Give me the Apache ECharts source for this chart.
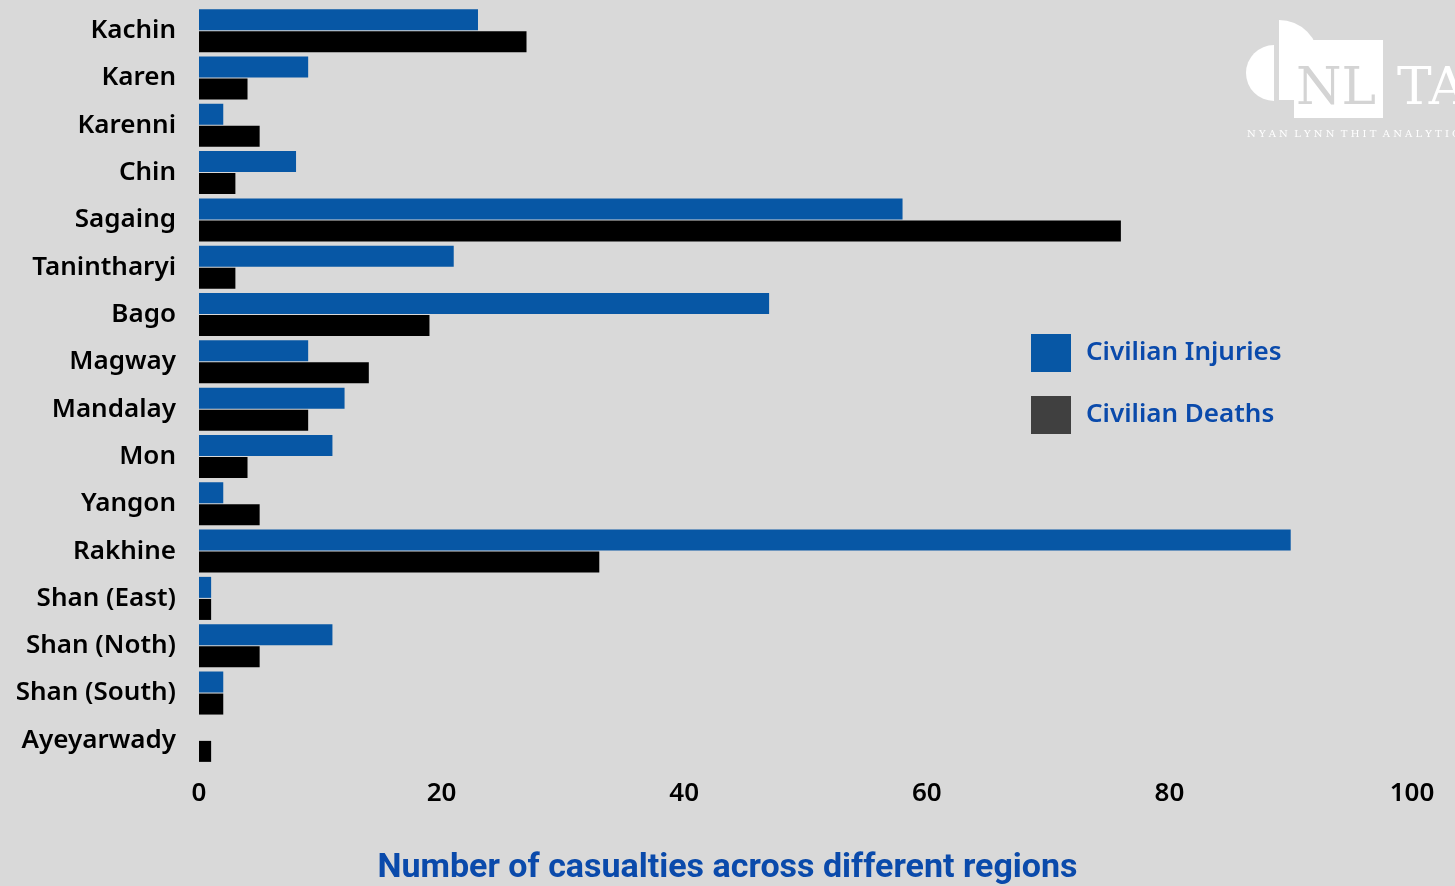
<!DOCTYPE html>
<html>
<head>
<meta charset="utf-8">
<script src="https://cdn.jsdelivr.net/npm/echarts@6/dist/echarts.min.js"></script>
<style>
  html, body { margin: 0; padding: 0; background: #d9d9d9; }
  #chart { width: 1455px; height: 886px; }
</style>
</head>
<body>
<div id="chart"></div>
<script>
// regions, top to bottom
const regions = ['Kachin', 'Karen', 'Karenni', 'Chin', 'Sagaing', 'Tanintharyi', 'Bago', 'Magway',
  'Mandalay', 'Mon', 'Yangon', 'Rakhine', 'Shan (East)', 'Shan (Noth)', 'Shan (South)', 'Ayeyarwady'];
const injuries = [23, 9, 2, 8, 58, 21, 47, 9, 12, 11, 2, 90, 1, 11, 2, 0];
const deaths = [27, 4, 5, 3, 76, 3, 19, 14, 9, 4, 5, 33, 1, 5, 2, 1];

const blue = '#0757a5';
const textBlue = '#0a4aab';
const labelFont = '"Noto Sans", Lato, sans-serif';

const chart = echarts.init(document.getElementById('chart'));

chart.setOption({
  backgroundColor: '#d9d9d9',
  title: {
    text: 'Number of casualties across different regions',
    left: 'center',
    top: 851,
    padding: 0,
    textStyle: { color: textBlue, fontSize: 34, fontWeight: 'bold', fontFamily: 'Roboto, sans-serif' }
  },
  legend: {
    orient: 'vertical',
    left: 1031,
    top: 334,
    padding: 0,
    itemWidth: 40,
    itemHeight: 38,
    itemGap: 24,
    icon: 'rect',
    textStyle: { color: textBlue, fontSize: 26, fontWeight: 600, fontFamily: labelFont, padding: [0, 0, 6, 10] },
    data: [
      { name: 'Civilian Injuries', itemStyle: { color: blue } },
      { name: 'Civilian Deaths', itemStyle: { color: '#404040' } }
    ]
  },
  grid: { left: 199, right: 43, top: 7, bottom: 122, containLabel: false },
  xAxis: {
    type: 'value',
    min: 0,
    max: 100,
    interval: 20,
    splitLine: { show: false },
    axisLine: { show: false },
    axisTick: { show: false },
    axisLabel: { margin: 17, color: '#000', fontSize: 26, fontWeight: 600, fontFamily: labelFont }
  },
  yAxis: {
    type: 'category',
    data: regions,
    inverse: true,
    axisLine: { show: false },
    axisTick: { show: false },
    axisLabel: { margin: 23, color: '#000', fontSize: 26, fontWeight: 600, fontFamily: labelFont }
  },
  series: [
    {
      name: 'Civilian Injuries',
      type: 'bar',
      data: injuries,
      itemStyle: { color: blue },
      barGap: '5%',
      barCategoryGap: '9%'
    },
    {
      name: 'Civilian Deaths',
      type: 'bar',
      data: deaths,
      itemStyle: { color: '#000' }
    }
  ],
  graphic: [
    // logo, top right
    {
      type: 'group',
      left: 1246,
      top: 20,
      silent: true,
      children: [
        { type: 'sector', shape: { cx: 27, cy: 53, r0: 0, r: 28, startAngle: Math.PI / 2, endAngle: Math.PI * 1.5 }, style: { fill: '#fff' } },
        { type: 'sector', shape: { cx: 32, cy: 40, r0: 0, r: 40, startAngle: -Math.PI / 2, endAngle: 0 }, style: { fill: '#fff' } },
        { type: 'rect', shape: { x: 32, y: 40, width: 16, height: 40 }, style: { fill: '#fff' } },
        { type: 'rect', shape: { x: 47, y: 20, width: 89, height: 78 }, style: { fill: '#fff' } },
        { type: 'text', style: { x: 49, y: 96, text: 'NL', fill: '#d4d4d4', font: '52px "DejaVu Serif", serif', textVerticalAlign: 'bottom' } },
        { type: 'text', style: { x: 150, y: 96, text: 'TA', fill: '#fff', font: '52px "DejaVu Serif", serif', textVerticalAlign: 'bottom' } },
        { type: 'text', style: { x: 0, y: 109, text: 'N Y A N  L Y N N  T H I T  A N A L Y T I C S', fill: '#fff', font: '10px "DejaVu Serif", serif' } }
      ]
    }
  ]
});
</script>
</body>
</html>
